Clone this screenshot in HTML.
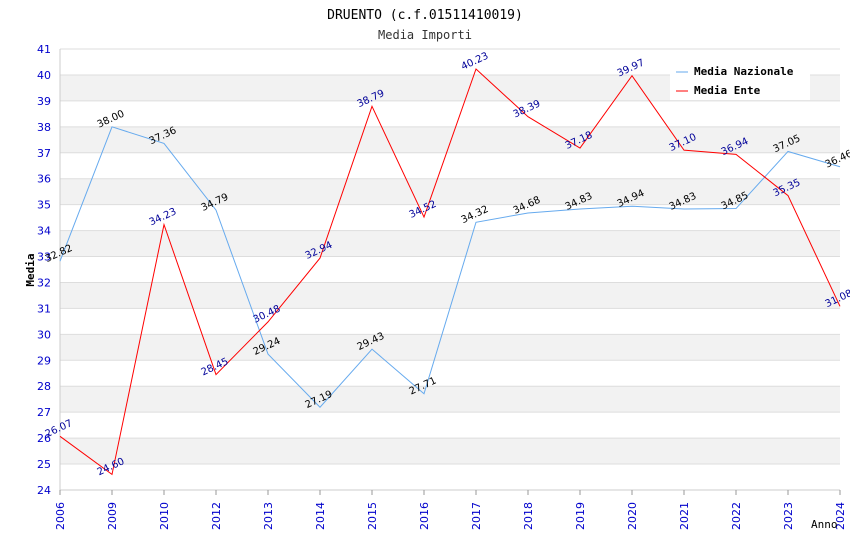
<!DOCTYPE html>
<html><head><meta charset="utf-8"><style>
body{margin:0;background:#fff}
svg{display:block;font-family:"DejaVu Sans","Liberation Sans",sans-serif}
</style></head><body>
<svg id="chart" width="850" height="550" xmlns="http://www.w3.org/2000/svg">
<text x="425" y="19" text-anchor="middle" font-family="DejaVu Sans Mono,monospace" font-size="13">DRUENTO (c.f.01511410019)</text>
<text x="425" y="39" text-anchor="middle" font-family="DejaVu Sans Mono,monospace" font-size="12" fill="#333">Media Importi</text>
<g id="bands"></g><g id="grid"></g><g id="axes"></g><g id="series"></g><g id="labels"></g>
<text transform="translate(34,270) rotate(-90)" text-anchor="middle" font-family="DejaVu Sans Mono,monospace" font-size="11" font-weight="bold">Media</text>
<text x="811" y="528" font-family="DejaVu Sans Mono,monospace" font-size="11">Anno</text>
<g>
<rect x="670" y="60" width="140" height="40" fill="#fff"/>
<line x1="676" y1="72" x2="688" y2="72" stroke="#66aaee"/>
<text x="694" y="75" font-family="DejaVu Sans Mono,monospace" font-size="11" font-weight="bold">Media Nazionale</text>
<line x1="676" y1="91" x2="688" y2="91" stroke="red"/>
<text x="694" y="94" font-family="DejaVu Sans Mono,monospace" font-size="11" font-weight="bold">Media Ente</text>
</g>
</svg>
<script>
const years=["2006","2009","2010","2012","2013","2014","2015","2016","2017","2018","2019","2020","2021","2022","2023","2024"];
const nazionale=[32.82,38.00,37.36,34.79,29.24,27.19,29.43,27.71,34.32,34.68,34.83,34.94,34.83,34.85,37.05,36.46];
const ente=[26.07,24.60,34.23,28.45,30.48,32.94,38.79,34.52,40.23,38.39,37.18,39.97,37.10,36.94,35.35,31.08];
const yTicks=[24,25,26,27,28,29,30,31,32,33,34,35,36,37,38,39,40,41];
const NS="http://www.w3.org/2000/svg";
const L=60,R=840,T=49,B=490,ymin=24,ymax=41;
const xs=i=>L+i*(R-L)/(years.length-1);
const ys=v=>B-(v-ymin)*(B-T)/(ymax-ymin);
function mk(tag,attrs,parent,txt){const e=document.createElementNS(NS,tag);for(const k in attrs)e.setAttribute(k,attrs[k]);if(txt!==undefined)e.textContent=txt;document.getElementById(parent).appendChild(e);return e;}
for(let i=0;i<yTicks.length-1;i++){
 if(yTicks[i]%2===1){const r=mk('rect',{x:L,y:ys(yTicks[i]+1),width:R-L,height:ys(yTicks[i])-ys(yTicks[i]+1),fill:'#f2f2f2'},'bands');
 
 }
}
yTicks.forEach(v=>{
 const g=mk('line',{x1:L,x2:R,y1:ys(v),y2:ys(v),stroke:'#ddd'},'grid');
 
 
 const t=mk('text',{x:L-9,y:ys(v)+4,'text-anchor':'end','font-size':11,fill:'#0000cc'},'axes',v);
 
 
});
mk('line',{x1:L,x2:L,y1:T,y2:B,stroke:'#ccc'},'axes');
mk('line',{x1:L,x2:R,y1:B,y2:B,stroke:'#ccc'},'axes');
years.forEach((y,i)=>{
 const x=xs(i);
 mk('line',{x1:x,x2:x,y1:B,y2:B+5,stroke:'#999'},'axes');
 const t=mk('text',{transform:`translate(${x+4},${B+40}) rotate(-90)`,'font-size':11,fill:'#0000cc'},'axes',y);
 
 
});
function series(data,color,lblColor,name){
 const p=mk('polyline',{points:data.map((v,i)=>xs(i)+','+ys(v)).join(' '),fill:'none',stroke:color,'stroke-width':1},'series');
 
 
 data.forEach((v,i)=>{
  const t=mk('text',{transform:`translate(${xs(i)},${ys(v)-5}) rotate(-25)`,'text-anchor':'middle','font-size':10,fill:lblColor},'labels',v.toFixed(2));
  
  
 });
}
series(nazionale,'#66aaee','#000','nazionale-line');
series(ente,'red','#000099','ente-line');
</script>
</body></html>
